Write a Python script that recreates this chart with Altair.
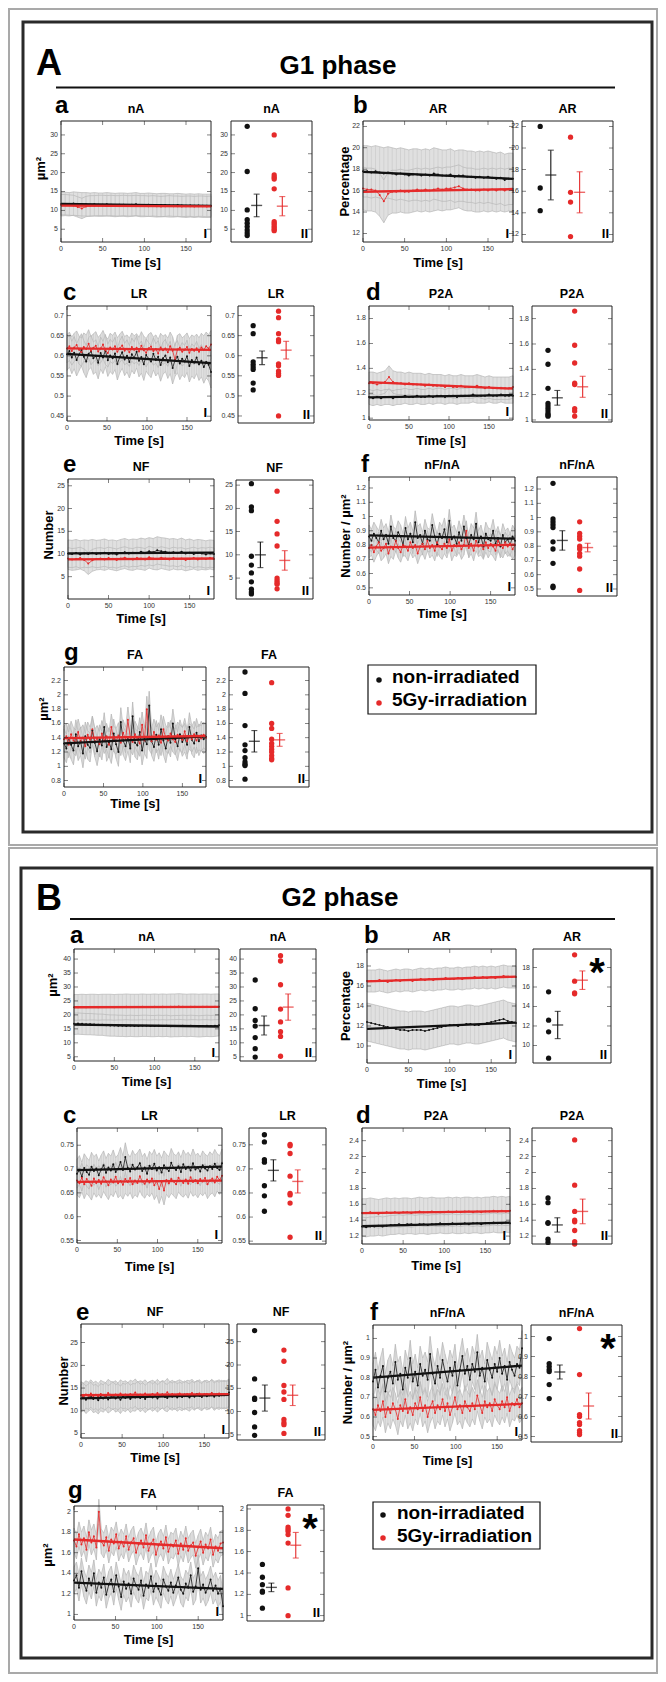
import altair as alt
import pandas as pd

# ------------------------------------------------------------------ data
TIME5 = list(range(0, 181, 5))  # s, smooth series
TIME3 = list(range(0, 181, 3))  # s, noisy series

# ---------- G1 phase : time series (mean per frame) ----------
G1_nA_t_ctrl = [11.6,11.7,11.6,11.8,11.7,11.6,11.6,11.5,11.6,11.5,11.5,11.6,11.5,11.4,11.5,11.5,11.4,11.5,11.6,11.4,
                11.4,11.5,11.4,11.3,11.4,11.4,11.3,11.3,11.4,11.3,11.2,11.3,11.2,11.3,11.2,11.2,11.2]
G1_nA_t_irr = [11.5,11.5,11.4,11.3,10.9,10.5,11.0,11.2,11.2,11.3,11.3,11.2,11.3,11.2,11.2,11.3,11.2,11.2,11.3,11.2,
               11.2,11.1,11.2,11.1,11.0,11.1,11.2,11.1,11.1,11.0,11.1,11.1,11.0,11.1,11.1,11.0,11.1]
G1_AR_t_ctrl = [17.8,17.8,17.7,17.8,17.7,17.6,17.7,17.6,17.5,17.6,17.5,17.4,17.5,17.5,17.4,17.5,17.4,17.6,17.5,17.4,
                17.4,17.5,17.3,17.4,17.4,17.3,17.3,17.2,17.3,17.2,17.3,17.2,17.1,17.2,17.0,17.1,17.1]
G1_AR_t_irr = [16.2,16.1,16.1,16.0,15.6,15.0,15.7,15.9,15.9,16.0,15.9,15.9,16.0,16.1,16.0,16.1,16.0,16.1,16.2,16.1,
               16.2,16.2,16.3,16.4,16.2,16.1,16.1,16.0,16.0,16.1,16.0,16.1,16.0,16.1,16.0,16.1,16.0]
G1_LR_t_ctrl = [0.604,0.612,0.596,0.608,0.590,0.603,0.615,0.598,0.586,0.605,0.611,0.594,0.600,0.583,0.607,0.596,
                0.613,0.589,0.601,0.594,0.606,0.580,0.598,0.609,0.591,0.600,0.585,0.604,0.595,0.610,0.588,0.597,
                0.579,0.602,0.593,0.586,0.605,0.590,0.598,0.577,0.594,0.601,0.584,0.596,0.570,0.589,0.598,0.581,
                0.593,0.586,0.599,0.575,0.590,0.583,0.596,0.579,0.588,0.572,0.585,0.578,0.560]
G1_LR_t_irr = [0.618,0.624,0.612,0.621,0.627,0.615,0.609,0.622,0.617,0.630,0.613,0.620,0.625,0.611,0.618,0.628,
               0.614,0.607,0.621,0.616,0.624,0.610,0.619,0.626,0.613,0.617,0.609,0.622,0.615,0.620,0.611,0.625,
               0.614,0.608,0.619,0.623,0.612,0.617,0.606,0.621,0.614,0.618,0.609,0.624,0.613,0.590,0.616,0.620,
               0.610,0.615,0.622,0.608,0.617,0.613,0.619,0.610,0.621,0.615,0.624,0.618,0.628]
G1_P2A_t_ctrl = [1.17,1.16,1.17,1.16,1.17,1.17,1.16,1.17,1.17,1.18,1.17,1.17,1.18,1.17,1.17,1.18,1.17,1.18,1.18,1.17,
                 1.18,1.18,1.17,1.18,1.18,1.18,1.19,1.18,1.18,1.18,1.19,1.18,1.18,1.19,1.18,1.18,1.18]
G1_P2A_t_irr = [1.28,1.28,1.27,1.28,1.29,1.33,1.29,1.28,1.28,1.27,1.28,1.27,1.27,1.27,1.26,1.27,1.26,1.26,1.26,1.25,
                1.26,1.25,1.25,1.26,1.25,1.25,1.25,1.26,1.25,1.24,1.25,1.24,1.24,1.24,1.24,1.24,1.25]
G1_NF_t_ctrl = [10.1,10.0,10.2,9.9,10.1,10.0,10.2,10.0,10.1,10.3,10.0,10.1,9.9,10.2,10.4,10.1,10.3,10.2,10.5,10.3,
                10.6,10.4,10.8,10.6,10.5,10.3,10.4,10.2,10.5,10.1,10.3,10.0,10.2,10.1,9.9,10.1,10.0]
G1_NF_t_irr = [9.0,8.8,8.9,9.1,8.7,7.9,8.6,8.9,9.0,8.8,9.1,8.9,8.7,9.0,9.2,8.9,8.8,9.1,9.0,8.8,
               9.3,9.0,8.9,9.2,9.0,8.8,9.1,8.9,9.0,8.7,8.9,9.1,8.8,9.0,8.9,9.1,8.9]
G1_nFnA_t_ctrl = [0.86,0.83,0.88,0.85,0.82,0.90,0.84,0.87,0.81,0.93,0.85,0.83,0.89,0.86,0.80,0.92,0.84,0.88,0.82,0.96,
                  0.85,0.87,0.81,0.90,0.84,0.83,0.94,0.86,0.80,0.88,0.85,0.91,0.82,0.97,0.84,0.86,0.81,0.89,0.83,0.93,
                  0.85,0.80,0.87,0.84,0.95,0.82,0.86,0.79,0.88,0.84,0.83,0.90,0.81,0.85,0.79,0.87,0.82,0.84,0.80,0.86,
                  0.83]
G1_nFnA_t_irr = [0.78,0.80,0.75,0.79,0.82,0.76,0.78,0.81,0.74,0.79,0.77,0.83,0.78,0.75,0.80,0.79,0.76,0.82,0.78,0.80,
                 0.74,0.79,0.81,0.77,0.83,0.78,0.80,0.76,0.82,0.79,0.77,0.81,0.78,0.84,0.76,0.80,0.79,0.82,0.77,0.80,
                 0.90,0.78,0.81,0.76,0.83,0.79,0.80,0.77,0.82,0.78,0.81,0.79,0.76,0.83,0.80,0.78,0.82,0.79,0.81,0.77,
                 0.80]
G1_FA_t_ctrl = [1.32,1.25,1.40,1.30,1.22,1.45,1.28,1.35,1.18,1.42,1.30,1.26,1.50,1.33,1.21,1.38,1.29,1.55,1.27,1.34,
                1.24,1.46,1.31,1.20,1.62,1.36,1.28,1.41,1.25,1.70,1.33,1.29,1.48,1.22,1.38,1.31,1.85,1.35,1.27,1.44,
                1.30,1.52,1.36,1.25,1.42,1.33,1.60,1.38,1.28,1.45,1.34,1.40,1.30,1.55,1.37,1.32,1.47,1.35,1.43,1.38,
                1.41]
G1_FA_t_irr = [1.38,1.42,1.30,1.45,1.36,1.33,1.48,1.35,1.40,1.28,1.44,1.37,1.52,1.34,1.39,1.31,1.46,1.36,1.42,1.30,
               1.55,1.38,1.35,1.43,1.33,1.47,1.37,1.65,1.40,1.34,1.45,1.38,1.32,1.58,1.36,1.80,1.41,1.35,1.48,1.37,
               1.43,1.33,1.52,1.39,1.36,1.46,1.38,1.34,1.44,1.40,1.37,1.49,1.35,1.42,1.38,1.45,1.36,1.41,1.39,1.44,
               1.40]

# ---------- G2 phase : time series ----------
G2_nA_t_ctrl = [16.8,16.9,16.8,16.7,16.7,16.6,16.5,16.5,16.3,16.2,16.2,16.1,16.1,16.0,16.1,16.0,16.0,16.1,16.1,16.0,
                16.0,16.1,16.0,16.1,15.9,16.0,16.0,16.1,16.0,16.1,16.0,15.9,16.0,16.1,16.0,16.1,16.3]
G2_nA_t_irr = [22.7,22.7,22.8,22.7,22.8,22.8,22.7,22.8,22.8,22.8,22.7,22.8,22.8,22.9,22.8,22.8,22.8,22.9,22.8,22.8,
               22.9,22.8,22.9,22.8,22.9,22.9,23.0,22.9,22.8,22.9,22.9,22.8,22.9,22.9,22.8,22.9,22.9]
G2_AR_t_ctrl = [12.4,12.3,12.2,12.1,12.0,11.9,11.8,11.7,11.6,11.6,11.5,11.6,11.6,11.6,11.5,11.6,11.7,11.8,11.9,12.0,
                12.1,12.1,12.0,12.1,12.2,12.2,12.1,12.1,12.2,12.3,12.4,12.5,12.6,12.7,12.5,12.4,12.3]
G2_AR_t_irr = [16.5,16.5,16.5,16.6,16.5,16.4,16.5,16.6,16.5,16.6,16.6,16.5,16.6,16.7,16.6,16.7,16.6,16.7,16.7,16.8,
               16.7,16.7,16.8,16.7,16.8,16.8,16.9,16.8,16.9,16.8,16.9,16.8,16.9,17.0,16.9,16.9,16.9]
G2_LR_t_ctrl = [0.690,0.698,0.684,0.702,0.694,0.688,0.705,0.696,0.701,0.687,0.699,0.708,0.692,0.703,0.697,0.710,
                0.694,0.700,0.715,0.698,0.725,0.702,0.695,0.709,0.699,0.704,0.712,0.696,0.703,0.690,0.707,0.700,
                0.711,0.697,0.704,0.693,0.708,0.701,0.696,0.713,0.702,0.698,0.706,0.694,0.710,0.700,0.705,0.697,
                0.712,0.699,0.703,0.695,0.708,0.701,0.697,0.706,0.700,0.711,0.702,0.698,0.712]
G2_LR_t_irr = [0.676,0.670,0.682,0.668,0.679,0.673,0.665,0.680,0.671,0.677,0.669,0.683,0.674,0.666,0.678,0.672,
               0.684,0.670,0.675,0.667,0.679,0.673,0.681,0.668,0.676,0.671,0.685,0.674,0.669,0.678,0.672,0.680,
               0.666,0.675,0.658,0.673,0.655,0.677,0.670,0.679,0.674,0.668,0.682,0.675,0.671,0.678,0.669,0.683,
               0.673,0.677,0.670,0.679,0.674,0.681,0.668,0.676,0.680,0.672,0.684,0.677,0.686]
G2_P2A_t_ctrl = [1.32,1.31,1.32,1.32,1.33,1.32,1.33,1.34,1.34,1.35,1.34,1.35,1.35,1.34,1.35,1.35,1.34,1.35,1.35,1.36,
                 1.35,1.35,1.36,1.35,1.35,1.36,1.35,1.36,1.36,1.35,1.36,1.36,1.37,1.36,1.36,1.37,1.36]
G2_P2A_t_irr = [1.49,1.49,1.50,1.49,1.48,1.49,1.50,1.49,1.50,1.49,1.50,1.50,1.49,1.50,1.51,1.50,1.50,1.51,1.50,1.50,
                1.50,1.51,1.50,1.51,1.50,1.51,1.51,1.50,1.51,1.50,1.51,1.51,1.52,1.51,1.52,1.51,1.52]
G2_NF_t_ctrl = [12.7,13.1,12.4,12.9,13.3,12.6,12.8,12.3,13.0,12.7,13.2,12.5,12.9,13.4,12.7,13.0,12.4,13.1,12.8,13.3,
                12.6,13.0,12.9,13.5,12.8,13.2,12.6,13.1,13.4,12.9,13.3,12.7,13.2,13.6,13.0,12.8,13.4,13.1,13.5,12.9,
                13.3,13.0,13.6,13.2,12.9,13.5,13.1,13.7,13.3,13.0,13.6,13.2,13.4,13.8,13.1,13.5,13.3,13.7,13.4,13.6,
                14.0]
G2_NF_t_irr = [13.4,13.1,13.6,13.3,13.8,13.2,13.5,13.0,13.7,13.4,13.2,13.9,13.5,13.3,13.6,13.1,13.8,13.4,13.6,13.2,
               13.7,13.5,14.0,13.3,13.6,13.4,13.8,13.2,13.5,13.7,13.4,13.9,13.3,13.6,13.5,14.1,13.4,13.7,13.3,13.6,
               13.8,13.5,13.2,13.7,13.6,13.9,13.4,13.5,13.8,13.3,13.6,13.7,13.4,13.9,13.5,13.6,13.8,13.4,13.7,13.5,
               13.6]
G2_nFnA_t_ctrl = [0.78,0.84,0.75,0.81,0.86,0.73,0.80,0.83,0.77,0.88,0.79,0.82,0.74,0.85,0.80,0.90,0.78,0.83,0.76,0.87,
                  0.81,0.84,0.79,0.92,0.82,0.77,0.86,0.80,0.89,0.83,0.78,0.85,0.81,0.88,0.76,0.84,0.91,0.82,0.86,0.79,
                  0.87,0.83,0.93,0.81,0.85,0.78,0.89,0.84,0.80,0.87,0.83,0.90,0.82,0.86,0.79,0.88,0.84,0.81,0.87,0.85,
                  0.95]
G2_nFnA_t_irr = [0.64,0.61,0.66,0.63,0.68,0.60,0.65,0.62,0.67,0.64,0.59,0.66,0.63,0.69,0.62,0.65,0.61,0.67,0.64,0.70,
                 0.63,0.66,0.60,0.65,0.68,0.62,0.66,0.64,0.69,0.63,0.67,0.61,0.65,0.70,0.64,0.66,0.62,0.68,0.65,0.63,
                 0.67,0.64,0.71,0.66,0.62,0.68,0.65,0.67,0.63,0.69,0.66,0.64,0.68,0.65,0.70,0.63,0.67,0.66,0.69,0.65,
                 0.67]
G2_FA_t_ctrl = [1.33,1.38,1.26,1.42,1.30,1.23,1.35,1.28,1.40,1.21,1.31,1.26,1.36,1.19,1.29,1.34,1.22,1.38,1.27,1.17,
                1.32,1.25,1.30,1.20,1.35,1.28,1.24,1.33,1.18,1.29,1.26,1.37,1.22,1.30,1.25,1.19,1.34,1.27,1.23,1.31,
                1.21,1.28,1.36,1.24,1.20,1.30,1.26,1.38,1.22,1.27,1.45,1.24,1.29,1.21,1.26,1.34,1.23,1.28,1.20,1.25,
                1.08]
G2_FA_t_irr = [1.72,1.66,1.78,1.68,1.74,1.63,1.80,1.70,1.76,1.65,2.00,1.71,1.67,1.75,1.62,1.73,1.69,1.78,1.64,1.71,
               1.66,1.76,1.63,1.70,1.74,1.60,1.68,1.72,1.65,1.77,1.62,1.69,1.73,1.58,1.67,1.71,1.64,1.75,1.61,1.68,
               1.66,1.72,1.59,1.69,1.63,1.74,1.62,1.67,1.70,1.57,1.65,1.71,1.60,1.68,1.64,1.73,1.58,1.66,1.62,1.69,
               1.70]

# ---------- standard deviation of the time series (ctrl, irr) ----------
G1_SD = {"nA": (3.1, 2.7), "AR": (2.4, 2.0), "LR": (0.04, 0.035), "P2A": (0.06, 0.09),
         "NF": (3.0, 2.4), "nFnA": (0.08, 0.07), "FA": (0.2, 0.18)}
G2_SD = {"nA": (3.8, 4.6), "AR": (1.9, 1.1), "LR": (0.03, 0.03), "P2A": (0.12, 0.18),
         "NF": (3.0, 3.0), "nFnA": (0.09, 0.08), "FA": (0.13, 0.12)}

# ---------- per-cell values (dot plots II) ----------
G1_nA_ctrl = [32.3,20.3,10.1,7.5,6.6,5.7,4.8,4.0,3.3]
G1_nA_irr = [30.0,19.4,18.8,18.3,15.7,7.0,6.5,6.0,5.5,5.0,4.6]
G1_AR_ctrl = [22.0,16.3,14.2]
G1_AR_irr = [21.0,15.9,15.0,11.8]
G1_LR_ctrl = [0.675,0.655,0.585,0.578,0.572,0.566,0.532,0.515]
G1_LR_irr = [0.711,0.695,0.655,0.640,0.635,0.580,0.575,0.562,0.556,0.551,0.450]
G1_P2A_ctrl = [1.55,1.44,1.25,1.13,1.11,1.09,1.07,1.05,1.04,1.03]
G1_P2A_irr = [1.86,1.59,1.45,1.29,1.28,1.09,1.07,1.03]
G1_NF_ctrl = [25.3,20.3,19.5,9.7,7.8,6.1,4.2,2.6,2.0,1.6]
G1_NF_irr = [23.7,17.2,14.5,11.9,5.0,4.5,4.0,3.7,2.7]
G1_nFnA_ctrl = [1.24,0.99,0.97,0.95,0.93,0.83,0.78,0.68,0.52,0.51]
G1_nFnA_irr = [0.97,0.89,0.87,0.85,0.80,0.78,0.75,0.73,0.64,0.49]
G1_FA_ctrl = [2.32,2.02,1.57,1.30,1.22,1.12,1.06,1.03,1.01,0.82]
G1_FA_irr = [2.17,1.60,1.53,1.38,1.32,1.28,1.24,1.20,1.15,1.11,1.09]

G2_nA_ctrl = [32.5,22.2,18.0,16.0,11.9,7.9,4.9]
G2_nA_irr = [41.2,39.3,30.8,22.1,17.5,14.0,12.3,5.2]
G2_AR_ctrl = [15.5,12.6,11.4,8.7]
G2_AR_irr = [19.3,16.6,15.4,15.3]
G2_LR_ctrl = [0.771,0.756,0.719,0.714,0.665,0.644,0.612]
G2_LR_irr = [0.751,0.748,0.732,0.685,0.649,0.646,0.629,0.558]
G2_P2A_ctrl = [1.68,1.62,1.37,1.36,1.16,1.12]
G2_P2A_irr = [2.41,1.84,1.51,1.40,1.38,1.27,1.13,1.10]
G2_NF_ctrl = [27.4,17.0,12.9,12.6,9.8,6.7,4.9]
G2_NF_irr = [23.2,20.8,15.6,14.2,12.6,8.3,7.6,7.2,5.3]
G2_nFnA_ctrl = [0.99,0.865,0.85,0.835,0.825,0.76,0.69]
G2_nFnA_irr = [1.04,0.81,0.61,0.60,0.57,0.56,0.53,0.52,0.51]
G2_FA_ctrl = [1.48,1.36,1.29,1.23,1.22,1.07]
G2_FA_irr = [2.00,1.94,1.83,1.81,1.79,1.76,1.68,1.26,1.00]

# ---------- mean and SEM of the dot plots (ctrl, irr) ----------
G1_MEAN = {"nA": (11.3, 11.1), "AR": (17.5, 15.9), "LR": (0.595, 0.614), "P2A": (1.175, 1.262),
           "NF": (10.0, 8.8), "nFnA": (0.84, 0.79), "FA": (1.35, 1.37)}
G1_SEM = {"nA": (3.0, 2.55), "AR": (2.3, 1.9), "LR": (0.017, 0.022), "P2A": (0.058, 0.083),
          "NF": (2.75, 2.1), "nFnA": (0.068, 0.03), "FA": (0.15, 0.09)}
G2_MEAN = {"nA": (16.2, 22.8), "AR": (12.1, 16.7), "LR": (0.697, 0.674), "P2A": (1.34, 1.51),
           "NF": (12.9, 13.5), "nFnA": (0.823, 0.653), "FA": (1.265, 1.66)}
G2_SEM = {"nA": (3.4, 4.7), "AR": (1.4, 0.95), "LR": (0.022, 0.024), "P2A": (0.09, 0.155),
          "NF": (2.8, 2.2), "nFnA": (0.035, 0.065), "FA": (0.04, 0.12)}

TIME_TICKS = [0, 50, 100, 150]
LEGEND_LABELS = ["non-irradiated", "5Gy-irradiation"]

# ------------------------------------------------------------------ layout / style
W, H, OFF = 650, 1666, 8
FONT = "Liberation Sans, Arial, sans-serif"
BLACK = "#111111"
RED = "#e52a2a"
BAND_FILL = "#e0e0e0"
BAND_EDGE = "#b7b7b7"
BAR_GREY = "#cdcdcd"
GX = {"ctrl": 1.0, "irr": 2.0}      # dot column position in II
BX = {"ctrl": 1.35, "irr": 2.3}     # error-bar position in II


def P(v):
    return v - OFF


LAYOUT = {
    ("G1", "nA"):   dict(letter="a", title="nA", ytitle="µm²", box1=(61, 211, 121, 242), box2=(231, 312, 121, 242),
                         dom1=(1.6, 33.7), dom2=(1.6, 33.7), ticks=[5, 10, 15, 20, 25, 30], ldx=-6, ldy=-8,
                         tx=-16, ty=-13, xl=25, star=False),
    ("G1", "AR"):   dict(letter="b", title="AR", ytitle="Percentage", box1=(363, 513, 121, 242), box2=(522, 613, 121, 242),
                         dom1=(11.2, 22.5), dom2=(11.3, 22.5), ticks=[12, 14, 16, 18, 20, 22], ldx=-10, ldy=-8,
                         tx=-14, ty=0, xl=25, star=False),
    ("G1", "LR"):   dict(letter="c", title="LR", ytitle="", box1=(67, 211, 306, 421), box2=(238, 314, 306, 423),
                         dom1=(0.438, 0.724), dom2=(0.4325, 0.724), ticks=[0.45, 0.5, 0.55, 0.6, 0.65, 0.7], ldx=-4, ldy=-6,
                         tx=0, ty=0, xl=24, star=False),
    ("G1", "P2A"):  dict(letter="d", title="P2A", ytitle="", box1=(369, 513, 306, 420), box2=(532, 612, 306, 422),
                         dom1=(0.985, 1.9), dom2=(0.984, 1.9), ticks=[1, 1.2, 1.4, 1.6, 1.8], ldx=-3, ldy=-6,
                         tx=0, ty=0, xl=25, star=False),
    ("G1", "NF"):   dict(letter="e", title="NF", ytitle="Number", box1=(68, 214, 479, 599), box2=(236, 313, 480, 599),
                         dom1=(0.1, 26.5), dom2=(0.5, 26.1), ticks=[5, 10, 15, 20, 25], ldx=-5, ldy=-7,
                         tx=-15, ty=-4, xl=24, star=False),
    ("G1", "nFnA"): dict(letter="f", title="nF/nA", ytitle="Number / µm²", box1=(369, 515, 477, 595), box2=(537, 617, 477, 596),
                         dom1=(0.45, 1.277), dom2=(0.451, 1.284), ticks=[0.5, 0.6, 0.7, 0.8, 0.9, 1, 1.1, 1.2], ldx=-8, ldy=-5,
                         tx=-19, ty=0, xl=23, star=False),
    ("G1", "FA"):   dict(letter="g", title="FA", ytitle="µm²", box1=(64, 206, 667, 787), box2=(229, 309, 667, 787),
                         dom1=(0.71, 2.39), dom2=(0.71, 2.39), ticks=[0.8, 1, 1.2, 1.4, 1.6, 1.8, 2, 2.2], ldx=0, ldy=-7,
                         tx=-16, ty=-18, xl=21, star=False),
    ("G2", "nA"):   dict(letter="a", title="nA", ytitle="µm²", box1=(74, 219, 949, 1061), box2=(240, 316, 949, 1061),
                         dom1=(3.5, 43.6), dom2=(3.5, 43.6), ticks=[5, 10, 15, 20, 25, 30, 35, 40], ldx=-4, ldy=-6,
                         tx=-17, ty=-20, xl=25, star=False),
    ("G2", "AR"):   dict(letter="b", title="AR", ytitle="Percentage", box1=(367, 516, 949, 1063), box2=(533, 611, 949, 1063),
                         dom1=(8.3, 19.7), dom2=(8.2, 19.9), ticks=[10, 12, 14, 16, 18], ldx=-3, ldy=-6,
                         tx=-17, ty=0, xl=25, star=True),
    ("G2", "LR"):   dict(letter="c", title="LR", ytitle="", box1=(77, 222, 1128, 1243), box2=(249, 326, 1128, 1244),
                         dom1=(0.545, 0.786), dom2=(0.544, 0.785), ticks=[0.55, 0.6, 0.65, 0.7, 0.75], ldx=-14, ldy=-5,
                         tx=0, ty=0, xl=28, star=False),
    ("G2", "P2A"):  dict(letter="d", title="P2A", ytitle="", box1=(362, 510, 1128, 1244), box2=(532, 612, 1128, 1244),
                         dom1=(1.1, 2.56), dom2=(1.1, 2.56), ticks=[1.2, 1.4, 1.6, 1.8, 2, 2.2, 2.4], ldx=-6, ldy=-5,
                         tx=0, ty=0, xl=26, star=False),
    ("G2", "NF"):   dict(letter="e", title="NF", ytitle="Number", box1=(81, 229, 1324, 1438), box2=(237, 325, 1324, 1440),
                         dom1=(4.0, 29.1), dom2=(3.9, 28.8), ticks=[5, 10, 15, 20, 25], ldx=-5, ldy=-4,
                         tx=-13, ty=0, xl=24, star=False),
    ("G2", "nFnA"): dict(letter="f", title="nF/nA", ytitle="Number / µm²", box1=(373, 522, 1325, 1440), box2=(531, 622, 1325, 1442),
                         dom1=(0.483, 1.068), dom2=(0.473, 1.058), ticks=[0.5, 0.6, 0.7, 0.8, 0.9, 1], ldx=-3, ldy=-5,
                         tx=-21, ty=0, xl=25, star=True),
    ("G2", "FA"):   dict(letter="g", title="FA", ytitle="µm²", box1=(74, 223, 1506, 1620), box2=(247, 324, 1505, 1621),
                         dom1=(0.945, 2.055), dom2=(0.95, 2.037), ticks=[1, 1.2, 1.4, 1.6, 1.8, 2], ldx=-6, ldy=-8,
                         tx=-22, ty=-8, xl=24, star=True),
}

G = globals()
DATA = {}
for ph in ("G1", "G2"):
    sd = G1_SD if ph == "G1" else G2_SD
    mean = G1_MEAN if ph == "G1" else G2_MEAN
    sem = G1_SEM if ph == "G1" else G2_SEM
    for k in ["nA", "AR", "LR", "P2A", "NF", "nFnA", "FA"]:
        DATA[(ph, k)] = dict(ts_c=G[f"{ph}_{k}_t_ctrl"], ts_i=G[f"{ph}_{k}_t_irr"], sd=sd[k],
                             dots_c=G[f"{ph}_{k}_ctrl"], dots_i=G[f"{ph}_{k}_irr"], mean=mean[k], sem=sem[k])

DUMMY = pd.DataFrame({"k": [0]})
COLOR = alt.Color("g:N", scale=alt.Scale(domain=["ctrl", "irr"], range=[BLACK, RED]), legend=None)


def xd(v):
    return alt.XDatum(v, type="quantitative", axis=None)


def yd(v):
    return alt.YDatum(v, type="quantitative", axis=None)


def frame_and_yticks(xdom, ydom, ticks):
    tdf = alt.Chart(pd.DataFrame({"v": ticks}))
    yv = alt.Y("v:Q", axis=None)
    return [
        alt.Chart(DUMMY).mark_rect(fillOpacity=0, stroke="#222222", strokeWidth=1).encode(
            x=xd(xdom[0]), x2=alt.X2Datum(xdom[1]), y=yd(ydom[0]), y2=alt.Y2Datum(ydom[1])),
        tdf.mark_text(align="right", baseline="middle", dx=-3, font=FONT, fontSize=7, color="#333333").encode(
            x=xd(xdom[0]), y=yv, text=alt.Text("v:Q", format="~g")),
        tdf.mark_tick(orient="horizontal", size=4, thickness=0.8, color="#222222", xOffset=2).encode(
            x=xd(xdom[0]), y=yv),
        tdf.mark_tick(orient="horizontal", size=4, thickness=0.8, color="#222222", xOffset=-2).encode(
            x=xd(xdom[1]), y=yv),
    ]


def texts(xdom, ydom, L, roman, with_letter, star):
    out = [
        alt.Chart(DUMMY).mark_text(text=L["title"], font=FONT, fontSize=12.5, fontWeight="bold",
                                   baseline="bottom", dy=-5).encode(
            x=xd((xdom[0] + xdom[1]) / 2), y=yd(ydom[1])),
        alt.Chart(DUMMY).mark_text(text=roman, font=FONT, fontSize=13, fontWeight="bold",
                                   align="right", baseline="alphabetic", dx=-4, dy=-4).encode(
            x=xd(xdom[1]), y=yd(ydom[0])),
    ]
    if with_letter:
        out.append(alt.Chart(DUMMY).mark_text(text=L["letter"], font=FONT, fontSize=24, fontWeight="bold",
                                              align="left", baseline="alphabetic", dx=L["ldx"], dy=L["ldy"]).encode(
            x=xd(xdom[0]), y=yd(ydom[1])))
        if L["ytitle"]:
            out.append(alt.Chart(DUMMY).mark_text(text=L["ytitle"], font=FONT, fontSize=13, fontWeight="bold",
                                                  angle=270, align="center", baseline="alphabetic",
                                                  xOffset=L["tx"], yOffset=L["ty"]).encode(
                x=xd(xdom[0]), y=yd((ydom[0] + ydom[1]) / 2)))
        out.append(alt.Chart(DUMMY).mark_text(text="Time [s]", font=FONT, fontSize=13, fontWeight="bold",
                                              baseline="alphabetic", dy=L["xl"]).encode(
            x=xd((xdom[0] + xdom[1]) / 2), y=yd(ydom[0])))
    if star:
        out.append(alt.Chart(DUMMY).mark_text(text="*", font=FONT, fontSize=40, fontWeight="bold",
                                              align="center", baseline="middle", dx=-14, dy=25).encode(
            x=xd(xdom[1]), y=yd(ydom[1])))
    return out


def panel_I(L, D):
    b = L["box1"]
    dom = L["dom1"]
    xdom = (0, 180)
    xs = alt.Scale(domain=list(xdom), range=[P(b[0]), P(b[1])], zero=False, nice=False)
    ys = alt.Scale(domain=list(dom), range=[P(b[3]), P(b[2])], zero=False, nice=False)
    tgrid = TIME3 if len(D["ts_c"]) == len(TIME3) else TIME5
    n = len(tgrid)
    df = pd.DataFrame({"t": tgrid + tgrid, "v": D["ts_c"] + D["ts_i"],
                       "g": ["ctrl"] * n + ["irr"] * n,
                       "sd": [D["sd"][0]] * n + [D["sd"][1]] * n})
    df["lo"] = df["v"] - df["sd"]
    df["hi"] = df["v"] + df["sd"]
    base = alt.Chart(df)
    xn = alt.X("t:Q", axis=None)
    band = base.mark_area(color=BAND_FILL).encode(
        x=alt.X("t:Q", scale=xs, axis=None),
        y=alt.Y("lo:Q", scale=ys, axis=None, stack=None),
        y2=alt.Y2("hi"), detail="g:N")
    rules = base.mark_rule(color=BAR_GREY, strokeWidth=0.8).encode(
        x=xn, y=alt.Y("lo:Q", axis=None), y2=alt.Y2("hi"))
    e_lo = base.mark_line(color=BAND_EDGE, strokeWidth=0.7).encode(x=xn, y=alt.Y("lo:Q", axis=None), detail="g:N")
    e_hi = base.mark_line(color=BAND_EDGE, strokeWidth=0.7).encode(x=xn, y=alt.Y("hi:Q", axis=None), detail="g:N")
    line = base.mark_line(strokeWidth=0.8).encode(x=xn, y=alt.Y("v:Q", axis=None), color=COLOR)
    marks = base.mark_circle(size=4, opacity=1).encode(x=xn, y=alt.Y("v:Q", axis=None), color=COLOR)
    fit = base.transform_regression("t", "v", groupby=["g"]).mark_line(strokeWidth=2.3).encode(
        x=xn, y=alt.Y("v:Q", axis=None), color=COLOR)
    # time axis (ticks + labels)
    tx = alt.Chart(pd.DataFrame({"t": TIME_TICKS}))
    xlab = tx.mark_text(baseline="top", dy=3, font=FONT, fontSize=7, color="#333333").encode(
        x=xn, y=yd(dom[0]), text=alt.Text("t:Q", format="d"))
    xtb = tx.mark_tick(orient="vertical", size=4, thickness=0.8, color="#222222", yOffset=-2).encode(x=xn, y=yd(dom[0]))
    xtt = tx.mark_tick(orient="vertical", size=4, thickness=0.8, color="#222222", yOffset=2).encode(x=xn, y=yd(dom[1]))
    layers = [band, rules, e_lo, e_hi, line, marks, fit] + frame_and_yticks(xdom, dom, L["ticks"]) + [xlab, xtb, xtt]
    layers += texts(xdom, dom, L, "I", True, False)
    return alt.layer(*layers)


def panel_II(L, D):
    b = L["box2"]
    dom = L["dom2"]
    xdom = (0.4, 3.4)
    xs = alt.Scale(domain=list(xdom), range=[P(b[0]), P(b[1])], zero=False, nice=False)
    ys = alt.Scale(domain=list(dom), range=[P(b[3]), P(b[2])], zero=False, nice=False)
    dots = pd.DataFrame({"x": [GX["ctrl"]] * len(D["dots_c"]) + [GX["irr"]] * len(D["dots_i"]),
                         "v": D["dots_c"] + D["dots_i"],
                         "g": ["ctrl"] * len(D["dots_c"]) + ["irr"] * len(D["dots_i"])})
    bars = pd.DataFrame({"x": [BX["ctrl"], BX["irr"]], "g": ["ctrl", "irr"],
                         "m": list(D["mean"]), "s": list(D["sem"])})
    bars["lo"] = bars["m"] - bars["s"]
    bars["hi"] = bars["m"] + bars["s"]
    xn = alt.X("x:Q", axis=None)
    pts = alt.Chart(dots).mark_circle(size=28, opacity=1).encode(
        x=alt.X("x:Q", scale=xs, axis=None),
        y=alt.Y("v:Q", scale=ys, axis=None), color=COLOR)
    bb = alt.Chart(bars)
    vbar = bb.mark_rule(strokeWidth=1.1).encode(x=xn, y=alt.Y("lo:Q", axis=None), y2=alt.Y2("hi"), color=COLOR)
    cap_lo = bb.mark_tick(orient="horizontal", size=6, thickness=1.1).encode(x=xn, y=alt.Y("lo:Q", axis=None), color=COLOR)
    cap_hi = bb.mark_tick(orient="horizontal", size=6, thickness=1.1).encode(x=xn, y=alt.Y("hi:Q", axis=None), color=COLOR)
    mline = bb.mark_tick(orient="horizontal", size=11, thickness=1.4).encode(x=xn, y=alt.Y("m:Q", axis=None), color=COLOR)
    layers = [pts, vbar, cap_lo, cap_hi, mline] + frame_and_yticks(xdom, dom, L["ticks"])
    layers += texts(xdom, dom, L, "II", False, L["star"])
    return alt.layer(*layers)


# ------------------------------------------------------------------ decorations
def vrect(x0, y0, x1, y1, **kw):
    return alt.Chart(DUMMY).mark_rect(fillOpacity=0, **kw).encode(
        x=alt.value(P(x0)), x2=alt.value(P(x1)), y=alt.value(P(y0)), y2=alt.value(P(y1)))


def vtext(txt, x, y, **kw):
    return alt.Chart(DUMMY).mark_text(text=txt, font=FONT, fontWeight="bold", **kw).encode(
        x=alt.value(P(x)), y=alt.value(P(y)))


def vrule(x0, x1, y, **kw):
    return alt.Chart(DUMMY).mark_rule(**kw).encode(x=alt.value(P(x0)), x2=alt.value(P(x1)), y=alt.value(P(y)))


def vdot(x, y, color):
    return alt.Chart(DUMMY).mark_circle(size=30, opacity=1, color=color).encode(
        x=alt.value(P(x)), y=alt.value(P(y)))


deco = [
    vrect(9, 9, 657, 845, stroke="#a9a9a9", strokeWidth=2),
    vrect(9, 848, 657, 1673, stroke="#a9a9a9", strokeWidth=2),
    vrect(23, 22, 652, 832, stroke="#2a2a2a", strokeWidth=3),
    vrect(21, 868, 652, 1658, stroke="#2a2a2a", strokeWidth=3),
    vtext("A", 36, 75, fontSize=36, align="left", baseline="alphabetic"),
    vtext("G1 phase", 338, 74, fontSize=26, align="center", baseline="alphabetic"),
    vrule(56, 615, 87.5, strokeWidth=2, color="#111111"),
    vtext("B", 36, 910, fontSize=36, align="left", baseline="alphabetic"),
    vtext("G2 phase", 340, 906, fontSize=26, align="center", baseline="alphabetic"),
    vrule(70, 615, 919, strokeWidth=2, color="#111111"),
    # legends
    vrect(368, 665, 536, 714, stroke="#111111", strokeWidth=1.2),
    vdot(379, 680, BLACK), vdot(379, 703, RED),
    vtext(LEGEND_LABELS[0], 392, 677, fontSize=19, align="left", baseline="middle"),
    vtext(LEGEND_LABELS[1], 392, 700, fontSize=19, align="left", baseline="middle"),
    vrect(373, 1502, 540, 1549, stroke="#111111", strokeWidth=1.2),
    vdot(383, 1515, BLACK), vdot(383, 1538, RED),
    vtext(LEGEND_LABELS[0], 397, 1513, fontSize=19, align="left", baseline="middle"),
    vtext(LEGEND_LABELS[1], 397, 1536, fontSize=19, align="left", baseline="middle"),
]

panels = []
for key, L in LAYOUT.items():
    panels.append(panel_I(L, DATA[key]))
    panels.append(panel_II(L, DATA[key]))

chart = alt.layer(*deco, *panels).resolve_scale(
    x="independent", y="independent"
).properties(
    width=W, height=H, padding=0, autosize=alt.AutoSizeParams(type="none"), background="white"
).configure_view(stroke=None)

chart.save("out.html", embed_options={"renderer": "svg", "actions": False})
